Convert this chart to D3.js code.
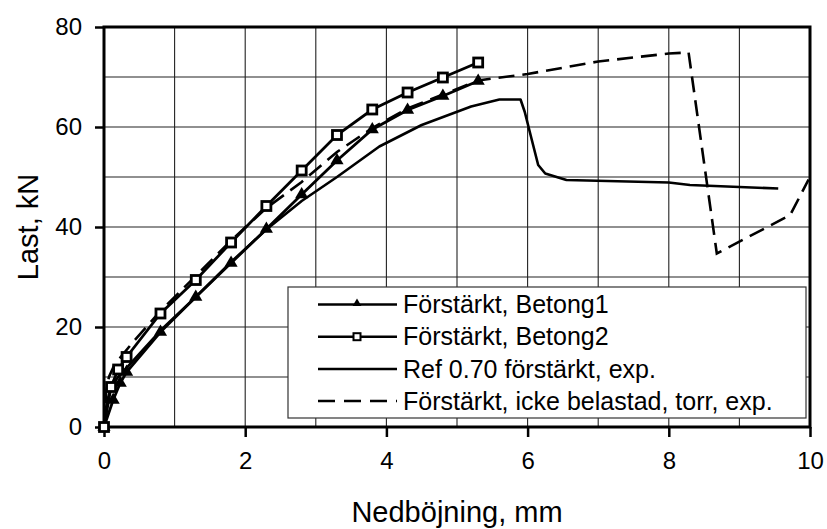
<!DOCTYPE html>
<html><head><meta charset="utf-8">
<script src="https://cdn.jsdelivr.net/npm/d3@7"></script>
<style>body{margin:0;background:#fff}svg{display:block;font-family:"Liberation Sans",Arial,sans-serif}</style>
</head><body><svg id="c" width="827" height="529"></svg>
<script>
const xTicks = [0, 2, 4, 6, 8, 10];
const yTicks = [0, 20, 40, 60, 80];
const seriesNames = ["Förstärkt, Betong1", "Förstärkt, Betong2", "Ref 0.70 förstärkt, exp.", "Förstärkt, icke belastad, torr, exp."];
const xTitle = "Nedböjning, mm";
const yTitle = "Last, kN";

const betong1X = [0, 0.13, 0.23, 0.32, 0.8, 1.3, 1.8, 2.3, 2.8, 3.3, 3.8, 4.3, 4.8, 5.3];
const betong1Y = [0, 5.4, 8.8, 11, 19, 26, 32.8, 39.6, 46.5, 53.3, 59.5, 63.4, 66.2, 69.2];
const betong2X = [0, 0.1, 0.2, 0.32, 0.8, 1.3, 1.8, 2.3, 2.8, 3.3, 3.8, 4.3, 4.8, 5.3];
const betong2Y = [0, 8, 11.5, 14, 22.7, 29.4, 36.9, 44.2, 51.3, 58.4, 63.5, 66.9, 69.9, 72.9];
const refX = [0, 0.04, 0.1, 0.2, 0.3, 0.8, 1.3, 1.8, 2.3, 2.8, 3.3, 3.9, 4.5, 5.2, 5.6, 5.9, 5.96, 6.06, 6.15, 6.25, 6.55, 8.0, 8.3, 9.55];
const refY = [0, 5, 8, 10, 11.5, 19.3, 26, 33, 39.5, 45.2, 50, 56.1, 60.4, 64.1, 65.5, 65.5, 63, 57.4, 52.4, 50.7, 49.4, 48.9, 48.4, 47.7];
const dashX = [0, 0.03, 0.07, 0.15, 0.4, 0.8, 1.3, 1.8, 2.3, 2.8, 3.3, 3.8, 4.3, 4.8, 5.3, 5.5, 6.0, 7.0, 8.0, 8.28, 8.68, 9.72, 9.98];
const dashY = [0, 7, 10, 12.5, 16.8, 23.2, 30.2, 37.3, 43.8, 49, 55, 59.8, 63.7, 66.5, 69.3, 69.7, 70.6, 73.1, 74.7, 74.9, 34.7, 42.4, 49.5];

const svg = d3.select("#c");
const L = 104, R = 810, T = 27, B = 427;
const x = d3.scaleLinear().domain([0, 10]).range([L, R]);
const y = d3.scaleLinear().domain([0, 80]).range([B, T]);

// grid
const g = svg.append("g");
g.selectAll(".vg").data(d3.range(1, 10)).join("line")
  .attr("x1", d => x(d)).attr("x2", d => x(d)).attr("y1", T).attr("y2", B)
  .attr("stroke", "#222").attr("stroke-width", 1.1);
g.selectAll(".hg").data(d3.range(10, 80, 10)).join("line")
  .attr("y1", d => y(d)).attr("y2", d => y(d)).attr("x1", L).attr("x2", R)
  .attr("stroke", "#222").attr("stroke-width", 1.1);

// axes
const xAxis = d3.axisBottom(x).tickValues(xTicks).tickSize(10).tickPadding(15).tickFormat(d3.format("d"));
const yAxis = d3.axisLeft(y).tickValues(yTicks).tickSize(9).tickPadding(13).tickFormat(d3.format("d"));
const xa = svg.append("g").attr("transform", `translate(0,${B})`).call(xAxis);
const ya = svg.append("g").attr("transform", `translate(${L},0)`).call(yAxis);
[xa, ya].forEach(a => {
  a.select(".domain").remove();
  a.selectAll(".tick line").attr("stroke", "#000").attr("stroke-width", 2.5);
  a.selectAll(".tick text").attr("fill", "#000").attr("font-size", 24).attr("font-family", "Liberation Sans, Arial, sans-serif");
});

// frame
svg.append("rect").attr("x", L).attr("y", T).attr("width", R - L).attr("height", B - T)
  .attr("fill", "none").attr("stroke", "#000").attr("stroke-width", 3);

// titles
svg.append("text").attr("x", (L + R) / 2).attr("y", 522).attr("text-anchor", "middle")
  .attr("font-size", 29).text(xTitle);
svg.append("text").attr("transform", `translate(38,${(T + B) / 2}) rotate(-90)`).attr("text-anchor", "middle")
  .attr("font-size", 29).text(yTitle);

// legend box
const lg = svg.append("g");
lg.append("rect").attr("x", 288).attr("y", 287).attr("width", 518).attr("height", 131)
  .attr("fill", "#fff").attr("stroke", "#333").attr("stroke-width", 1.2);

// lines
const line = d3.line().x(d => x(d[0])).y(d => y(d[1]));
const zip = (a, b) => a.map((v, i) => [v, b[i]]);
const plot = svg.append("g");
plot.append("path").datum(zip(dashX, dashY)).attr("d", line).attr("fill", "none")
  .attr("stroke", "#000").attr("stroke-width", 2.6).attr("stroke-dasharray", "16,8");
plot.append("path").datum(zip(refX, refY)).attr("d", line).attr("fill", "none")
  .attr("stroke", "#000").attr("stroke-width", 2.6).attr("stroke-linejoin", "round");
plot.append("path").datum(zip(betong1X, betong1Y)).attr("d", line).attr("fill", "none")
  .attr("stroke", "#000").attr("stroke-width", 2.8);
plot.append("path").datum(zip(betong2X, betong2Y)).attr("d", line).attr("fill", "none")
  .attr("stroke", "#000").attr("stroke-width", 2.8);

const tri = d3.symbol().type(d3.symbolTriangle);
plot.selectAll(".t").data(zip(betong1X, betong1Y)).join("path")
  .attr("transform", d => `translate(${x(d[0])},${y(d[1])})`)
  .attr("d", tri.size(75)()).attr("fill", "#000");
plot.selectAll(".s").data(zip(betong2X, betong2Y)).join("rect")
  .attr("x", d => x(d[0]) - 4.5).attr("y", d => y(d[1]) - 4.5).attr("width", 9).attr("height", 9)
  .attr("fill", "#fff").attr("stroke", "#000").attr("stroke-width", 2.8);

// legend entries
const rowsY = [304.5, 336.7, 369, 401];
seriesNames.forEach((name, i) => {
  const ly = rowsY[i];
  const ln = lg.append("line").attr("x1", 318).attr("x2", 397).attr("y1", ly).attr("y2", ly)
    .attr("stroke", "#000").attr("stroke-width", 2.6);
  if (i === 3) ln.attr("stroke-dasharray", "17,9");
  if (i === 0) lg.append("path").attr("transform", `translate(357,${ly - 1})`).attr("d", tri.size(34)()).attr("fill", "#000");
  if (i === 1) lg.append("rect").attr("x", 353.5).attr("y", ly - 3.5).attr("width", 7).attr("height", 7)
    .attr("fill", "#fff").attr("stroke", "#000").attr("stroke-width", 2);
  lg.append("text").attr("x", 403).attr("y", ly + 8.5).attr("font-size", 25).attr("fill", "#000").text(name);
});
</script></body></html>
